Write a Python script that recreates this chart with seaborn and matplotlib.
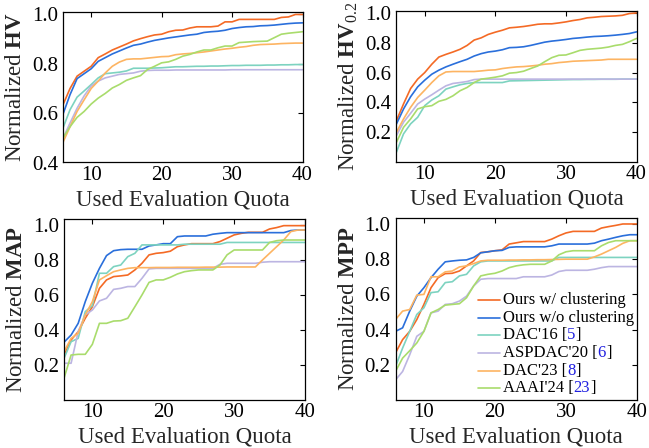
import numpy as np
import pandas as pd
import matplotlib
matplotlib.use("Agg")
import matplotlib.pyplot as plt
import seaborn as sns
from matplotlib.lines import Line2D
from matplotlib.offsetbox import (AnchoredOffsetbox, DrawingArea, HPacker,
                                  TextArea, VPacker)

# Data
quota = list(range(6, 41))

methods = ["Ours w/ clustering", "Ours w/o clustering", "DAC'16", "ASPDAC'20", "DAC'23", "AAAI'24"]
cites = [None, None, "5", "6", "8", "23"]
colors = ["#f46a25", "#2a6fdb", "#7dd3c0", "#bcb5e2", "#fdb462", "#a9dc6c"]

hv_ours = [0.634, 0.70, 0.75, 0.77, 0.79, 0.825, 0.84, 0.856, 0.868, 0.88, 0.893, 0.902, 0.91, 0.917, 0.92,
           0.93, 0.936, 0.937, 0.945, 0.95, 0.95, 0.95, 0.953, 0.97, 0.97, 0.98, 0.98, 0.98, 0.98, 0.98,
           0.98, 0.988, 0.99, 1.0, 1.0]
hv_noclu = [0.596, 0.675, 0.74, 0.76, 0.78, 0.81, 0.825, 0.84, 0.852, 0.864, 0.875, 0.88, 0.888, 0.895, 0.90,
            0.905, 0.909, 0.913, 0.917, 0.92, 0.927, 0.93, 0.932, 0.936, 0.943, 0.947, 0.95, 0.951, 0.954, 0.955,
            0.957, 0.96, 0.963, 0.965, 0.966]
hv_dac16 = [0.54, 0.614, 0.665, 0.69, 0.716, 0.743, 0.76, 0.763, 0.766, 0.771, 0.782, 0.782, 0.782, 0.783, 0.784,
            0.786, 0.788, 0.788, 0.789, 0.79, 0.79, 0.791, 0.791, 0.792, 0.793, 0.793, 0.794, 0.794, 0.794, 0.795,
            0.795, 0.796, 0.796, 0.797, 0.797]
hv_aspdac20 = [0.498, 0.56, 0.62, 0.67, 0.71, 0.73, 0.743, 0.75, 0.757, 0.76, 0.763, 0.77, 0.773, 0.774, 0.774,
               0.774, 0.775, 0.775, 0.775, 0.775, 0.775, 0.775, 0.775, 0.775, 0.776, 0.776, 0.776, 0.776, 0.776,
               0.776, 0.776, 0.776, 0.776, 0.776, 0.776]
hv_dac23 = [0.482, 0.545, 0.607, 0.654, 0.70, 0.73, 0.763, 0.79, 0.807, 0.818, 0.82, 0.82, 0.823, 0.826, 0.829,
            0.83, 0.837, 0.84, 0.842, 0.845, 0.848, 0.852, 0.856, 0.86, 0.863, 0.867, 0.87, 0.875, 0.878, 0.879,
            0.88, 0.882, 0.883, 0.884, 0.884]
hv_aaai24 = [0.50, 0.545, 0.583, 0.607, 0.637, 0.661, 0.68, 0.702, 0.716, 0.733, 0.743, 0.752, 0.777, 0.79, 0.804,
             0.808, 0.818, 0.831, 0.838, 0.848, 0.856, 0.856, 0.865, 0.872, 0.872, 0.886, 0.888, 0.89, 0.891, 0.892,
             0.906, 0.92, 0.924, 0.927, 0.93]

hv02_ours = [0.278, 0.39, 0.493, 0.556, 0.60, 0.656, 0.704, 0.722, 0.738, 0.756, 0.782, 0.818, 0.833, 0.856, 0.871,
             0.884, 0.90, 0.904, 0.909, 0.916, 0.924, 0.927, 0.927, 0.933, 0.94, 0.949, 0.956, 0.967, 0.971, 0.976,
             0.978, 0.98, 0.984, 0.996, 1.0]
hv02_noclu = [0.256, 0.356, 0.438, 0.504, 0.549, 0.589, 0.616, 0.638, 0.656, 0.673, 0.689, 0.711, 0.727, 0.738, 0.744,
              0.753, 0.767, 0.769, 0.773, 0.782, 0.793, 0.804, 0.811, 0.816, 0.822, 0.829, 0.833, 0.838, 0.842, 0.844,
              0.847, 0.851, 0.856, 0.862, 0.873]
hv02_dac16 = [0.067, 0.189, 0.256, 0.30, 0.378, 0.416, 0.444, 0.489, 0.504, 0.518, 0.527, 0.533, 0.533, 0.533, 0.533,
              0.533, 0.544, 0.545, 0.546, 0.547, 0.548, 0.549, 0.55, 0.551, 0.552, 0.553, 0.553, 0.554, 0.554, 0.555,
              0.555, 0.555, 0.556, 0.556, 0.556]
hv02_aspdac20 = [0.178, 0.267, 0.327, 0.389, 0.422, 0.451, 0.482, 0.511, 0.527, 0.533, 0.54, 0.553, 0.556, 0.556, 0.556,
                 0.556, 0.556, 0.556, 0.556, 0.556, 0.556, 0.556, 0.556, 0.556, 0.556, 0.556, 0.556, 0.556, 0.556,
                 0.556, 0.556, 0.556, 0.556, 0.556, 0.556]
hv02_dac23 = [0.20, 0.289, 0.367, 0.433, 0.482, 0.533, 0.578, 0.604, 0.607, 0.607, 0.607, 0.607, 0.611, 0.616, 0.618,
              0.627, 0.633, 0.638, 0.64, 0.644, 0.649, 0.656, 0.66, 0.667, 0.671, 0.676, 0.678, 0.68, 0.682, 0.684,
              0.689, 0.689, 0.689, 0.689, 0.689]
hv02_aaai24 = [0.133, 0.233, 0.289, 0.356, 0.371, 0.378, 0.407, 0.42, 0.444, 0.478, 0.50, 0.533, 0.556, 0.562, 0.569,
               0.578, 0.596, 0.60, 0.609, 0.627, 0.644, 0.673, 0.70, 0.716, 0.718, 0.733, 0.749, 0.756, 0.76, 0.764,
               0.771, 0.782, 0.789, 0.807, 0.829]

map_ours = [0.257, 0.343, 0.39, 0.467, 0.533, 0.638, 0.686, 0.705, 0.709, 0.714, 0.743, 0.781, 0.829, 0.838, 0.842,
            0.85, 0.876, 0.886, 0.893, 0.893, 0.893, 0.893, 0.905, 0.924, 0.943, 0.952, 0.958, 0.958, 0.958, 0.977,
            0.985, 0.996, 0.996, 0.996, 0.996]
map_noclu = [0.33, 0.371, 0.438, 0.562, 0.667, 0.752, 0.825, 0.853, 0.859, 0.861, 0.861, 0.861, 0.88, 0.886, 0.893,
             0.893, 0.933, 0.937, 0.937, 0.937, 0.937, 0.947, 0.952, 0.956, 0.956, 0.956, 0.956, 0.956, 0.956, 0.956,
             0.956, 0.956, 0.968, 0.971, 0.971]
map_dac16 = [0.238, 0.333, 0.352, 0.505, 0.539, 0.724, 0.724, 0.762, 0.771, 0.819, 0.838, 0.886, 0.886, 0.886, 0.886,
             0.886, 0.886, 0.89, 0.89, 0.89, 0.89, 0.89, 0.89, 0.90, 0.90, 0.90, 0.90, 0.90, 0.90, 0.90,
             0.90, 0.90, 0.90, 0.90, 0.90]
map_aspdac20 = [0.21, 0.21, 0.39, 0.486, 0.514, 0.566, 0.581, 0.632, 0.638, 0.648, 0.648, 0.695, 0.749, 0.752, 0.752,
                0.752, 0.752, 0.752, 0.752, 0.752, 0.752, 0.752, 0.775, 0.781, 0.781, 0.781, 0.781, 0.781, 0.787,
                0.79, 0.79, 0.79, 0.79, 0.79, 0.79]
map_dac23 = [0.276, 0.352, 0.381, 0.486, 0.562, 0.686, 0.71, 0.733, 0.743, 0.752, 0.756, 0.756, 0.756, 0.757, 0.757,
             0.757, 0.758, 0.758, 0.758, 0.758, 0.759, 0.759, 0.759, 0.76, 0.76, 0.76, 0.76, 0.76, 0.80, 0.838,
             0.876, 0.914, 0.962, 0.971, 0.971]
map_aaai24 = [0.124, 0.257, 0.261, 0.261, 0.318, 0.438, 0.438, 0.451, 0.453, 0.467, 0.533, 0.60, 0.672, 0.686, 0.686,
              0.701, 0.72, 0.733, 0.739, 0.743, 0.743, 0.743, 0.771, 0.829, 0.857, 0.857, 0.857, 0.857, 0.857, 0.90,
              0.91, 0.914, 0.914, 0.914, 0.914]

mpp_ours = [0.267, 0.343, 0.39, 0.457, 0.543, 0.638, 0.695, 0.718, 0.72, 0.733, 0.762, 0.79, 0.838, 0.842, 0.848,
            0.853, 0.886, 0.893, 0.90, 0.90, 0.90, 0.90, 0.914, 0.933, 0.949, 0.958, 0.958, 0.958, 0.958, 0.977,
            0.985, 0.992, 1.0, 1.0, 1.0]
mpp_noclu = [0.39, 0.41, 0.505, 0.59, 0.638, 0.695, 0.743, 0.785, 0.79, 0.794, 0.796, 0.81, 0.836, 0.842, 0.848,
             0.85, 0.867, 0.87, 0.87, 0.87, 0.87, 0.87, 0.876, 0.886, 0.886, 0.886, 0.886, 0.886, 0.891, 0.905,
             0.914, 0.924, 0.933, 0.939, 0.939]
mpp_dac16 = [0.19, 0.295, 0.39, 0.486, 0.524, 0.61, 0.615, 0.667, 0.672, 0.705, 0.714, 0.762, 0.785, 0.79, 0.79,
             0.79, 0.79, 0.79, 0.79, 0.79, 0.79, 0.79, 0.79, 0.81, 0.81, 0.81, 0.81, 0.81, 0.81, 0.81,
             0.81, 0.81, 0.81, 0.81, 0.81]
mpp_aspdac20 = [0.114, 0.162, 0.257, 0.362, 0.39, 0.495, 0.505, 0.543, 0.547, 0.562, 0.59, 0.648, 0.686, 0.69, 0.69,
                0.69, 0.69, 0.69, 0.70, 0.70, 0.70, 0.70, 0.71, 0.73, 0.737, 0.737, 0.737, 0.737, 0.743, 0.752,
                0.758, 0.758, 0.758, 0.758, 0.758]
mpp_dac23 = [0.457, 0.505, 0.514, 0.596, 0.60, 0.70, 0.70, 0.728, 0.733, 0.756, 0.762, 0.775, 0.79, 0.794, 0.794,
             0.794, 0.795, 0.795, 0.796, 0.796, 0.797, 0.797, 0.798, 0.799, 0.80, 0.80, 0.80, 0.80, 0.813, 0.829,
             0.848, 0.867, 0.89, 0.905, 0.905]
mpp_aaai24 = [0.162, 0.238, 0.28, 0.324, 0.39, 0.495, 0.514, 0.539, 0.543, 0.547, 0.581, 0.648, 0.705, 0.714, 0.72,
              0.733, 0.752, 0.762, 0.768, 0.771, 0.771, 0.771, 0.79, 0.825, 0.842, 0.848, 0.848, 0.848, 0.848, 0.876,
              0.895, 0.905, 0.905, 0.905, 0.905]

panels = [
    (r"Normalized $\mathbf{HV}$", [hv_ours, hv_noclu, hv_dac16, hv_aspdac20, hv_dac23, hv_aaai24],
     (0.4, 1.01), [0.4, 0.6, 0.8, 1.0]),
    (r"Normalized $\mathbf{HV}_{0.2}$", [hv02_ours, hv02_noclu, hv02_dac16, hv02_aspdac20, hv02_dac23, hv02_aaai24],
     (0.0, 1.015), [0.2, 0.4, 0.6, 0.8, 1.0]),
    (r"Normalized $\mathbf{MAP}$", [map_ours, map_noclu, map_dac16, map_aspdac20, map_dac23, map_aaai24],
     (0.0, 1.034), [0.2, 0.4, 0.6, 0.8, 1.0]),
    (r"Normalized $\mathbf{MPP}$", [mpp_ours, mpp_noclu, mpp_dac16, mpp_aspdac20, mpp_dac23, mpp_aaai24],
     (0.0, 1.034), [0.2, 0.4, 0.6, 0.8, 1.0]),
]

# Style
sns.set_style("white")
plt.rcParams["font.family"] = ["Liberation Serif", "DejaVu Serif"]
plt.rcParams["mathtext.fontset"] = "custom"
plt.rcParams["mathtext.rm"] = "Liberation Serif"
plt.rcParams["mathtext.it"] = "Liberation Serif:italic"
plt.rcParams["mathtext.bf"] = "Liberation Serif:bold"

fig = plt.figure(figsize=(6.49, 4.48), dpi=100)
W, H = 649, 448
boxes = [(63, 12, 302.5, 162.5), (396.5, 10.7, 636.5, 162), (64, 219, 305, 400), (395.5, 218, 637, 400)]
axes = [fig.add_axes([l / W, 1 - b / H, (r - l) / W, (b - t) / H]) for (l, t, r, b) in boxes]

palette = dict(zip(methods, colors))
for ax, (ylabel, series, ylim, yticks) in zip(axes, panels):
    df = pd.concat([pd.DataFrame({"quota": quota, "value": vals, "method": m})
                    for m, vals in zip(methods, series)])
    sns.lineplot(data=df, x="quota", y="value", hue="method", hue_order=methods,
                 palette=palette, linewidth=1.2, legend=False, ax=ax)
    ax.set_xlim(6, 40)
    ax.set_ylim(*ylim)
    ax.set_xticks([10, 20, 30, 40])
    ax.set_yticks(yticks)
    ax.set_yticklabels([f"{v:.1f}" for v in yticks])
    ax.tick_params(direction="in", length=3.5, width=0.8, top=True, right=True,
                   labelsize=15, pad=3.5, colors="black")
    ax.tick_params(axis="x", pad=2.5)
    for s in ax.spines.values():
        s.set_color("black")
        s.set_linewidth(0.9)
    ax.set_xlabel("Used Evaluation Quota", fontsize=16.5, labelpad=3)
    ax.set_ylabel(ylabel, fontsize=16.5, labelpad=4)

# Legend with blue citation numbers
rows = []
for m, c, cite in zip(methods, colors, cites):
    da = DrawingArea(16, 8, 0, 0)
    da.add_artist(Line2D([0, 16], [4, 4], color=c, linewidth=1.2))
    tp = dict(fontsize=12, color="black")
    if cite is None:
        texts = [TextArea(m, textprops=tp)]
    else:
        texts = [TextArea(m + " [", textprops=tp),
                 TextArea(cite, textprops=dict(fontsize=12, color="#1f1fe0")),
                 TextArea("]", textprops=tp)]
    label = HPacker(children=texts, pad=0, sep=0)
    rows.append(HPacker(children=[da, label], align="center", pad=0, sep=2))
box = VPacker(children=rows, align="left", pad=0, sep=1.2)
anchored = AnchoredOffsetbox(loc="upper left", child=box, pad=0, borderpad=0, frameon=False,
                             bbox_to_anchor=(478 / W, 1 - 292 / H), bbox_transform=fig.transFigure)
axes[3].add_artist(anchored)

fig.savefig("out.png", dpi=100)
